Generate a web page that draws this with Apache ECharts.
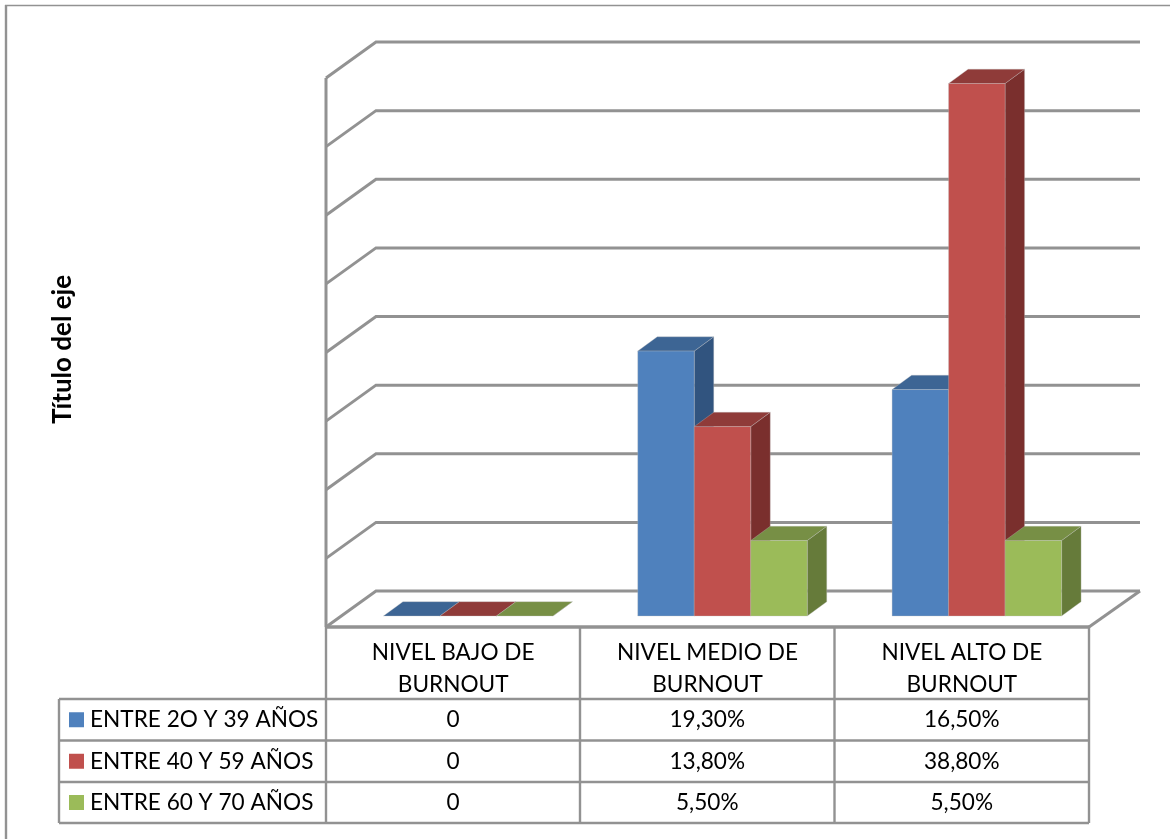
<!DOCTYPE html>
<html>
<head>
<meta charset="utf-8">
<style>html,body{margin:0;padding:0;background:#fff}#chart{width:1170px;height:839px}</style>
<script src="https://cdn.jsdelivr.net/npm/echarts@6/dist/echarts.min.js"></script>
</head>
<body>
<div id="chart"></div>
<script>
// Burnout levels by age group: 3D-look clustered columns with a data table below.
const categories = ['NIVEL BAJO DE\nBURNOUT', 'NIVEL MEDIO DE\nBURNOUT', 'NIVEL ALTO DE\nBURNOUT'];
const seriesNames = ['ENTRE 2O Y 39 AÑOS', 'ENTRE 40 Y 59 AÑOS', 'ENTRE 60 Y 70 AÑOS'];
const valuesYoung = [0, 19.3, 16.5];
const valuesMiddle = [0, 13.8, 38.8];
const valuesOlder = [0, 5.5, 5.5];
const gridTicks = [0, 5, 10, 15, 20, 25, 30, 35, 40];
const axisTitle = 'Título del eje';

const frontColors = ['#4F81BD', '#C0504D', '#9BBB59'];
const topColors = ['#3D6594', '#8F3B39', '#778F45'];
const sideColors = ['#31547F', '#7A2F2D', '#667B3A'];

const LINE = '#929292';
const FONT = 'Lato, "Open Sans", sans-serif';
const PLOT = { left: 326, right: 1089, top: 78, bottom: 627 };
const WALL_DX = 50, WALL_DY = 36;      // depth of the floor and side wall
const BAR_DX = 19.5, BAR_DY = 14.3;    // depth of one column
const BAR_INSET_DX = 15, BAR_INSET_DY = 11; // columns stand this far back on the floor
const BAR_RATIO = 56.5 / 254.33;
const TABLE_ROWS = [627, 699, 740.5, 782, 823];
const TABLE_LEFT = 59;
const TABLE_COLS = [326, 580, 834.5, 1089];

function formatValue(v) {
  return v === 0 ? '0' : v.toFixed(2).replace('.', ',') + '%';
}

function poly(points, fill) {
  return { type: 'polygon', shape: { points }, style: { fill, stroke: 'rgba(190,190,190,0.55)', lineWidth: 0.6 } };
}

// One clustered column: front, top and side faces from the value scale.
function columnRenderer(seriesIndex) {
  return function (params, api) {
    const cat = api.value(0);
    const base = api.coord([cat, 0]);
    const top = api.coord([cat, api.value(1)]);
    const w = api.size([1, 0])[0] * BAR_RATIO;
    const x0 = base[0] + BAR_INSET_DX + (seriesIndex - 1.5) * w;
    const x1 = x0 + w;
    const yb = base[1] - BAR_INSET_DY;
    const yt = top[1] - BAR_INSET_DY;
    return {
      type: 'group',
      children: [
        poly([[x1, yb], [x1 + BAR_DX, yb - BAR_DY], [x1 + BAR_DX, yt - BAR_DY], [x1, yt]], sideColors[seriesIndex]),
        poly([[x0, yt], [x0 + BAR_DX, yt - BAR_DY], [x1 + BAR_DX, yt - BAR_DY], [x1, yt]], topColors[seriesIndex]),
        yb > yt ? poly([[x0, yb], [x1, yb], [x1, yt], [x0, yt]], frontColors[seriesIndex]) : { type: 'group' }
      ]
    };
  };
}

// Back wall gridlines with their run along the side wall.
function gridRenderer(params, api) {
  const v = api.value(0);
  const left = api.coord([0, v]);
  const x = PLOT.left, y = left[1];
  return {
    type: 'polyline',
    shape: { points: [[x, y], [x + WALL_DX, y - WALL_DY], [PLOT.right + WALL_DX + 1, y - WALL_DY]] },
    style: { stroke: LINE, lineWidth: 3, fill: null, lineJoin: 'miter' }
  };
}

const allValues = [valuesYoung, valuesMiddle, valuesOlder];
const graphic = [];

function hLine(x1, x2, y, w) {
  graphic.push({ type: 'line', shape: { x1, y1: y, x2, y2: y }, style: { stroke: LINE, lineWidth: w || 2.4 }, z: 5 });
}
function vLine(x, y1, y2, w) {
  graphic.push({ type: 'line', shape: { x1: x, y1, x2: x, y2 }, style: { stroke: LINE, lineWidth: w || 2.4 }, z: 5 });
}
function label(text, x, y, align) {
  graphic.push({ type: 'text', x, y, z: 6, style: { text, fill: '#000', font: '22.6px ' + FONT, align: align || 'center', verticalAlign: 'middle' } });
}

// Outer picture frame
hLine(5, 1170, 5.5, 1.4);
vLine(6, 5, 839, 2.4);

// Floor edges and side wall upright
vLine(PLOT.left, PLOT.top, PLOT.bottom, 3);
hLine(PLOT.left, PLOT.right, PLOT.bottom, 3.4);
graphic.push({ type: 'line', shape: { x1: PLOT.right, y1: PLOT.bottom, x2: PLOT.right + WALL_DX + 1, y2: PLOT.bottom - WALL_DY }, style: { stroke: LINE, lineWidth: 3 }, z: 5 });

// Data table rules
TABLE_ROWS.slice(1).forEach(y => hLine(TABLE_LEFT, TABLE_COLS[3], y));
TABLE_COLS.forEach(x => vLine(x, TABLE_ROWS[0], TABLE_ROWS[4]));
vLine(TABLE_LEFT, TABLE_ROWS[1], TABLE_ROWS[4]);

// Data table rows with legend keys and values
seriesNames.forEach((name, i) => {
  const yc = (TABLE_ROWS[i + 1] + TABLE_ROWS[i + 2]) / 2;
  graphic.push({ type: 'rect', shape: { x: 69, y: yc - 7.5, width: 15, height: 15 }, style: { fill: frontColors[i] }, z: 6 });
  label(name, 90, yc, 'left');
  allValues[i].forEach((v, c) => label(formatValue(v), (TABLE_COLS[c] + TABLE_COLS[c + 1]) / 2, yc));
});

const columnSeries = allValues.map((vals, i) => ({
  type: 'custom',
  name: seriesNames[i],
  coordinateSystem: 'cartesian2d',
  renderItem: columnRenderer(i),
  data: vals.map((v, c) => [c, v]),
  encode: { x: 0, y: 1 },
  z: 3 + i,
  silent: true
}));

const chart = echarts.init(document.getElementById('chart'), null, { renderer: 'canvas' });
chart.setOption({
  animation: false,
  backgroundColor: '#fff',
  grid: { left: PLOT.left, top: PLOT.top, width: PLOT.right - PLOT.left, height: PLOT.bottom - PLOT.top, containLabel: false },
  xAxis: {
    type: 'category',
    data: categories,
    axisLine: { show: false },
    axisTick: { show: false },
    axisLabel: { color: '#000', fontFamily: FONT, fontSize: 22.6, lineHeight: 32, margin: 10, interval: 0 }
  },
  yAxis: {
    type: 'value',
    min: 0,
    max: 40,
    interval: 5,
    name: axisTitle,
    nameLocation: 'middle',
    nameRotate: 90,
    nameGap: 250,
    nameTextStyle: { color: '#000', fontFamily: FONT, fontSize: 26, fontWeight: 'bold', padding: [0, 0, 0, 6] },
    axisLine: { show: false },
    axisTick: { show: false },
    axisLabel: { show: false },
    splitLine: { show: false }
  },
  graphic,
  series: [{
    type: 'custom',
    coordinateSystem: 'cartesian2d',
    renderItem: gridRenderer,
    data: gridTicks.map(v => [v]),
    encode: { y: 0 },
    z: 1,
    silent: true
  }].concat(columnSeries)
});
</script>
</body>
</html>
